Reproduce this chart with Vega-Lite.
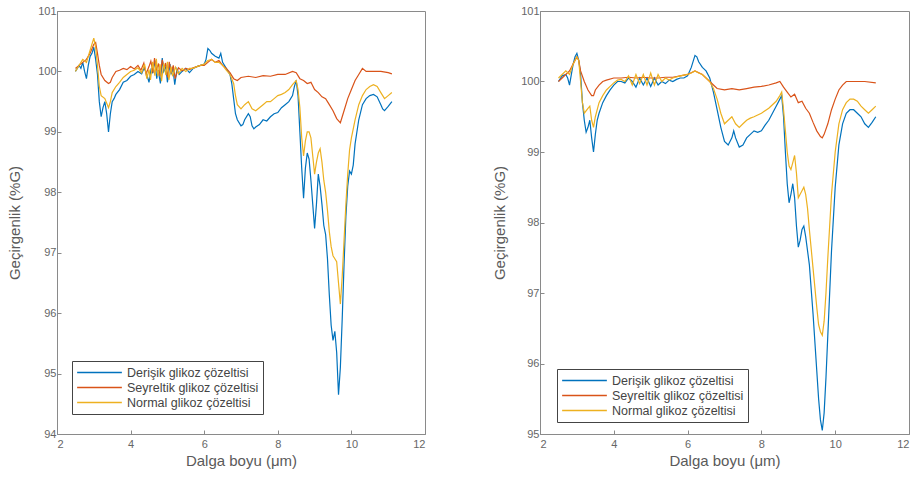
{
"$schema": "https://vega.github.io/schema/vega-lite/v6.json",
"padding": {"left": 6, "top": 4, "right": 0, "bottom": 0},
"background": "white",
"bounds": "flush",
"spacing": 115,
"resolve": {"legend": {"color": "independent"}, "scale": {"y": "independent", "color": "independent"}},
"config": {
  "font": "Liberation Sans",
  "view": {"stroke": "#8a8a8a", "strokeWidth": 1},
  "axis": {"grid": false, "domainColor": "#8a8a8a", "tickColor": "#8a8a8a", "tickSize": -4, "labelColor": "#666", "labelFontSize": 11, "titleFontSize": 15, "titleFontWeight": "normal", "titleColor": "#5a5a5a", "labelPadding": 5},
  "legend": {"orient": "none", "symbolType": "stroke", "symbolSize": 2000, "symbolStrokeWidth": 1.5, "clipHeight": 15, "strokeColor": "#444", "fillColor": "white", "padding": 4, "labelFontSize": 12.5, "labelColor": "#444", "rowPadding": 0, "labelLimit": 300}
},
"data": {"values": [
{"p":"L","s":"D","x":2.5,"y":100.0},{"p":"L","s":"D","x":2.55,"y":100.05},{"p":"L","s":"D","x":2.6,"y":100.1},{"p":"L","s":"D","x":2.65,"y":100.05},{"p":"L","s":"D","x":2.7,"y":100.15},{"p":"L","s":"D","x":2.75,"y":100.0},{"p":"L","s":"D","x":2.8,"y":99.88},{"p":"L","s":"D","x":2.85,"y":100.1},{"p":"L","s":"D","x":2.9,"y":100.25},{"p":"L","s":"D","x":2.95,"y":100.3},{"p":"L","s":"D","x":3.0,"y":100.4},{"p":"L","s":"D","x":3.05,"y":100.2},{"p":"L","s":"D","x":3.1,"y":99.95},{"p":"L","s":"D","x":3.15,"y":99.5},{"p":"L","s":"D","x":3.2,"y":99.25},{"p":"L","s":"D","x":3.25,"y":99.4},{"p":"L","s":"D","x":3.3,"y":99.5},{"p":"L","s":"D","x":3.35,"y":99.3},{"p":"L","s":"D","x":3.4,"y":99.0},{"p":"L","s":"D","x":3.45,"y":99.3},{"p":"L","s":"D","x":3.5,"y":99.5},{"p":"L","s":"D","x":3.55,"y":99.55},{"p":"L","s":"D","x":3.6,"y":99.62},{"p":"L","s":"D","x":3.7,"y":99.7},{"p":"L","s":"D","x":3.8,"y":99.82},{"p":"L","s":"D","x":3.9,"y":99.85},{"p":"L","s":"D","x":4.0,"y":99.92},{"p":"L","s":"D","x":4.1,"y":99.95},{"p":"L","s":"D","x":4.2,"y":100.0},{"p":"L","s":"D","x":4.3,"y":99.96},{"p":"L","s":"D","x":4.37,"y":100.06},{"p":"L","s":"D","x":4.45,"y":99.93},{"p":"L","s":"D","x":4.5,"y":99.82},{"p":"L","s":"D","x":4.56,"y":100.05},{"p":"L","s":"D","x":4.6,"y":99.97},{"p":"L","s":"D","x":4.66,"y":100.18},{"p":"L","s":"D","x":4.71,"y":99.88},{"p":"L","s":"D","x":4.75,"y":100.02},{"p":"L","s":"D","x":4.81,"y":99.8},{"p":"L","s":"D","x":4.86,"y":100.22},{"p":"L","s":"D","x":4.9,"y":100.0},{"p":"L","s":"D","x":4.96,"y":100.08},{"p":"L","s":"D","x":5.0,"y":99.82},{"p":"L","s":"D","x":5.07,"y":100.12},{"p":"L","s":"D","x":5.1,"y":99.95},{"p":"L","s":"D","x":5.15,"y":100.05},{"p":"L","s":"D","x":5.2,"y":99.78},{"p":"L","s":"D","x":5.26,"y":100.04},{"p":"L","s":"D","x":5.32,"y":99.95},{"p":"L","s":"D","x":5.4,"y":100.0},{"p":"L","s":"D","x":5.5,"y":100.05},{"p":"L","s":"D","x":5.6,"y":99.98},{"p":"L","s":"D","x":5.7,"y":100.05},{"p":"L","s":"D","x":5.8,"y":100.08},{"p":"L","s":"D","x":5.9,"y":100.1},{"p":"L","s":"D","x":6.0,"y":100.12},{"p":"L","s":"D","x":6.05,"y":100.2},{"p":"L","s":"D","x":6.1,"y":100.38},{"p":"L","s":"D","x":6.15,"y":100.35},{"p":"L","s":"D","x":6.2,"y":100.3},{"p":"L","s":"D","x":6.3,"y":100.25},{"p":"L","s":"D","x":6.4,"y":100.22},{"p":"L","s":"D","x":6.45,"y":100.3},{"p":"L","s":"D","x":6.5,"y":100.15},{"p":"L","s":"D","x":6.6,"y":100.05},{"p":"L","s":"D","x":6.7,"y":99.95},{"p":"L","s":"D","x":6.75,"y":99.8},{"p":"L","s":"D","x":6.8,"y":99.55},{"p":"L","s":"D","x":6.85,"y":99.3},{"p":"L","s":"D","x":6.9,"y":99.2},{"p":"L","s":"D","x":7.0,"y":99.1},{"p":"L","s":"D","x":7.05,"y":99.12},{"p":"L","s":"D","x":7.1,"y":99.2},{"p":"L","s":"D","x":7.2,"y":99.3},{"p":"L","s":"D","x":7.25,"y":99.25},{"p":"L","s":"D","x":7.3,"y":99.1},{"p":"L","s":"D","x":7.35,"y":99.05},{"p":"L","s":"D","x":7.4,"y":99.08},{"p":"L","s":"D","x":7.5,"y":99.12},{"p":"L","s":"D","x":7.6,"y":99.2},{"p":"L","s":"D","x":7.7,"y":99.18},{"p":"L","s":"D","x":7.8,"y":99.25},{"p":"L","s":"D","x":7.9,"y":99.3},{"p":"L","s":"D","x":8.0,"y":99.32},{"p":"L","s":"D","x":8.1,"y":99.4},{"p":"L","s":"D","x":8.2,"y":99.45},{"p":"L","s":"D","x":8.3,"y":99.5},{"p":"L","s":"D","x":8.4,"y":99.6},{"p":"L","s":"D","x":8.45,"y":99.75},{"p":"L","s":"D","x":8.5,"y":99.85},{"p":"L","s":"D","x":8.55,"y":99.6},{"p":"L","s":"D","x":8.6,"y":99.0},{"p":"L","s":"D","x":8.65,"y":98.4},{"p":"L","s":"D","x":8.7,"y":97.9},{"p":"L","s":"D","x":8.75,"y":98.4},{"p":"L","s":"D","x":8.8,"y":98.65},{"p":"L","s":"D","x":8.85,"y":98.55},{"p":"L","s":"D","x":8.9,"y":98.2},{"p":"L","s":"D","x":8.95,"y":97.8},{"p":"L","s":"D","x":9.0,"y":97.4},{"p":"L","s":"D","x":9.05,"y":97.8},{"p":"L","s":"D","x":9.1,"y":98.3},{"p":"L","s":"D","x":9.15,"y":98.1},{"p":"L","s":"D","x":9.2,"y":97.8},{"p":"L","s":"D","x":9.25,"y":97.45},{"p":"L","s":"D","x":9.3,"y":97.3},{"p":"L","s":"D","x":9.35,"y":96.9},{"p":"L","s":"D","x":9.4,"y":96.3},{"p":"L","s":"D","x":9.45,"y":95.8},{"p":"L","s":"D","x":9.5,"y":95.55},{"p":"L","s":"D","x":9.55,"y":95.7},{"p":"L","s":"D","x":9.6,"y":95.35},{"p":"L","s":"D","x":9.65,"y":94.65},{"p":"L","s":"D","x":9.7,"y":95.1},{"p":"L","s":"D","x":9.75,"y":95.9},{"p":"L","s":"D","x":9.8,"y":96.8},{"p":"L","s":"D","x":9.85,"y":97.6},{"p":"L","s":"D","x":9.9,"y":98.1},{"p":"L","s":"D","x":9.95,"y":98.35},{"p":"L","s":"D","x":10.0,"y":98.3},{"p":"L","s":"D","x":10.05,"y":98.45},{"p":"L","s":"D","x":10.1,"y":98.8},{"p":"L","s":"D","x":10.2,"y":99.2},{"p":"L","s":"D","x":10.3,"y":99.45},{"p":"L","s":"D","x":10.4,"y":99.55},{"p":"L","s":"D","x":10.5,"y":99.6},{"p":"L","s":"D","x":10.6,"y":99.62},{"p":"L","s":"D","x":10.7,"y":99.58},{"p":"L","s":"D","x":10.8,"y":99.45},{"p":"L","s":"D","x":10.85,"y":99.38},{"p":"L","s":"D","x":10.9,"y":99.35},{"p":"L","s":"D","x":11.0,"y":99.42},{"p":"L","s":"D","x":11.1,"y":99.5},
{"p":"L","s":"S","x":2.5,"y":100.05},{"p":"L","s":"S","x":2.6,"y":100.1},{"p":"L","s":"S","x":2.7,"y":100.15},{"p":"L","s":"S","x":2.8,"y":100.2},{"p":"L","s":"S","x":2.9,"y":100.3},{"p":"L","s":"S","x":3.0,"y":100.45},{"p":"L","s":"S","x":3.05,"y":100.48},{"p":"L","s":"S","x":3.1,"y":100.3},{"p":"L","s":"S","x":3.15,"y":100.1},{"p":"L","s":"S","x":3.2,"y":99.95},{"p":"L","s":"S","x":3.3,"y":99.85},{"p":"L","s":"S","x":3.4,"y":99.8},{"p":"L","s":"S","x":3.45,"y":99.82},{"p":"L","s":"S","x":3.5,"y":99.9},{"p":"L","s":"S","x":3.6,"y":100.0},{"p":"L","s":"S","x":3.7,"y":100.02},{"p":"L","s":"S","x":3.8,"y":100.05},{"p":"L","s":"S","x":3.9,"y":100.03},{"p":"L","s":"S","x":4.0,"y":100.08},{"p":"L","s":"S","x":4.1,"y":100.04},{"p":"L","s":"S","x":4.2,"y":100.1},{"p":"L","s":"S","x":4.28,"y":100.02},{"p":"L","s":"S","x":4.36,"y":100.14},{"p":"L","s":"S","x":4.42,"y":99.96},{"p":"L","s":"S","x":4.5,"y":100.08},{"p":"L","s":"S","x":4.55,"y":100.17},{"p":"L","s":"S","x":4.61,"y":99.98},{"p":"L","s":"S","x":4.65,"y":100.22},{"p":"L","s":"S","x":4.7,"y":100.03},{"p":"L","s":"S","x":4.76,"y":100.13},{"p":"L","s":"S","x":4.8,"y":99.92},{"p":"L","s":"S","x":4.86,"y":100.19},{"p":"L","s":"S","x":4.91,"y":100.05},{"p":"L","s":"S","x":4.95,"y":100.14},{"p":"L","s":"S","x":5.01,"y":99.9},{"p":"L","s":"S","x":5.05,"y":100.16},{"p":"L","s":"S","x":5.1,"y":99.98},{"p":"L","s":"S","x":5.16,"y":100.1},{"p":"L","s":"S","x":5.21,"y":99.88},{"p":"L","s":"S","x":5.3,"y":100.06},{"p":"L","s":"S","x":5.4,"y":100.01},{"p":"L","s":"S","x":5.5,"y":100.05},{"p":"L","s":"S","x":5.6,"y":100.03},{"p":"L","s":"S","x":5.7,"y":100.06},{"p":"L","s":"S","x":5.8,"y":100.08},{"p":"L","s":"S","x":5.9,"y":100.1},{"p":"L","s":"S","x":6.0,"y":100.1},{"p":"L","s":"S","x":6.1,"y":100.15},{"p":"L","s":"S","x":6.2,"y":100.2},{"p":"L","s":"S","x":6.3,"y":100.15},{"p":"L","s":"S","x":6.4,"y":100.18},{"p":"L","s":"S","x":6.5,"y":100.1},{"p":"L","s":"S","x":6.6,"y":100.05},{"p":"L","s":"S","x":6.7,"y":99.98},{"p":"L","s":"S","x":6.8,"y":99.88},{"p":"L","s":"S","x":6.9,"y":99.85},{"p":"L","s":"S","x":7.0,"y":99.9},{"p":"L","s":"S","x":7.2,"y":99.92},{"p":"L","s":"S","x":7.4,"y":99.9},{"p":"L","s":"S","x":7.6,"y":99.93},{"p":"L","s":"S","x":7.8,"y":99.92},{"p":"L","s":"S","x":8.0,"y":99.95},{"p":"L","s":"S","x":8.2,"y":99.95},{"p":"L","s":"S","x":8.4,"y":100.0},{"p":"L","s":"S","x":8.5,"y":99.98},{"p":"L","s":"S","x":8.6,"y":99.88},{"p":"L","s":"S","x":8.7,"y":99.85},{"p":"L","s":"S","x":8.8,"y":99.8},{"p":"L","s":"S","x":8.9,"y":99.82},{"p":"L","s":"S","x":9.0,"y":99.7},{"p":"L","s":"S","x":9.1,"y":99.65},{"p":"L","s":"S","x":9.2,"y":99.58},{"p":"L","s":"S","x":9.3,"y":99.55},{"p":"L","s":"S","x":9.4,"y":99.45},{"p":"L","s":"S","x":9.5,"y":99.35},{"p":"L","s":"S","x":9.6,"y":99.22},{"p":"L","s":"S","x":9.7,"y":99.15},{"p":"L","s":"S","x":9.75,"y":99.25},{"p":"L","s":"S","x":9.8,"y":99.35},{"p":"L","s":"S","x":9.9,"y":99.55},{"p":"L","s":"S","x":10.0,"y":99.7},{"p":"L","s":"S","x":10.1,"y":99.85},{"p":"L","s":"S","x":10.2,"y":99.95},{"p":"L","s":"S","x":10.3,"y":100.05},{"p":"L","s":"S","x":10.4,"y":100.0},{"p":"L","s":"S","x":10.6,"y":100.0},{"p":"L","s":"S","x":10.8,"y":100.0},{"p":"L","s":"S","x":11.0,"y":99.98},{"p":"L","s":"S","x":11.1,"y":99.96},
{"p":"L","s":"N","x":2.5,"y":100.0},{"p":"L","s":"N","x":2.6,"y":100.1},{"p":"L","s":"N","x":2.7,"y":100.2},{"p":"L","s":"N","x":2.8,"y":100.15},{"p":"L","s":"N","x":2.9,"y":100.35},{"p":"L","s":"N","x":3.0,"y":100.55},{"p":"L","s":"N","x":3.05,"y":100.4},{"p":"L","s":"N","x":3.1,"y":100.1},{"p":"L","s":"N","x":3.15,"y":99.75},{"p":"L","s":"N","x":3.2,"y":99.6},{"p":"L","s":"N","x":3.3,"y":99.55},{"p":"L","s":"N","x":3.4,"y":99.4},{"p":"L","s":"N","x":3.45,"y":99.5},{"p":"L","s":"N","x":3.5,"y":99.65},{"p":"L","s":"N","x":3.6,"y":99.75},{"p":"L","s":"N","x":3.7,"y":99.82},{"p":"L","s":"N","x":3.8,"y":99.9},{"p":"L","s":"N","x":3.9,"y":99.95},{"p":"L","s":"N","x":4.0,"y":100.0},{"p":"L","s":"N","x":4.1,"y":100.02},{"p":"L","s":"N","x":4.2,"y":100.06},{"p":"L","s":"N","x":4.3,"y":99.98},{"p":"L","s":"N","x":4.38,"y":100.12},{"p":"L","s":"N","x":4.44,"y":99.88},{"p":"L","s":"N","x":4.5,"y":100.03},{"p":"L","s":"N","x":4.54,"y":99.86},{"p":"L","s":"N","x":4.6,"y":100.16},{"p":"L","s":"N","x":4.66,"y":99.93},{"p":"L","s":"N","x":4.7,"y":100.21},{"p":"L","s":"N","x":4.74,"y":99.92},{"p":"L","s":"N","x":4.8,"y":100.12},{"p":"L","s":"N","x":4.84,"y":99.84},{"p":"L","s":"N","x":4.9,"y":100.13},{"p":"L","s":"N","x":4.96,"y":99.94},{"p":"L","s":"N","x":5.0,"y":100.16},{"p":"L","s":"N","x":5.04,"y":99.86},{"p":"L","s":"N","x":5.1,"y":100.08},{"p":"L","s":"N","x":5.14,"y":99.92},{"p":"L","s":"N","x":5.22,"y":100.07},{"p":"L","s":"N","x":5.3,"y":99.96},{"p":"L","s":"N","x":5.4,"y":100.05},{"p":"L","s":"N","x":5.5,"y":100.0},{"p":"L","s":"N","x":5.6,"y":100.05},{"p":"L","s":"N","x":5.7,"y":100.05},{"p":"L","s":"N","x":5.8,"y":100.08},{"p":"L","s":"N","x":5.9,"y":100.1},{"p":"L","s":"N","x":6.0,"y":100.12},{"p":"L","s":"N","x":6.1,"y":100.18},{"p":"L","s":"N","x":6.2,"y":100.2},{"p":"L","s":"N","x":6.3,"y":100.15},{"p":"L","s":"N","x":6.4,"y":100.15},{"p":"L","s":"N","x":6.5,"y":100.1},{"p":"L","s":"N","x":6.6,"y":100.02},{"p":"L","s":"N","x":6.7,"y":99.95},{"p":"L","s":"N","x":6.8,"y":99.8},{"p":"L","s":"N","x":6.85,"y":99.6},{"p":"L","s":"N","x":6.9,"y":99.45},{"p":"L","s":"N","x":7.0,"y":99.38},{"p":"L","s":"N","x":7.1,"y":99.45},{"p":"L","s":"N","x":7.2,"y":99.5},{"p":"L","s":"N","x":7.3,"y":99.38},{"p":"L","s":"N","x":7.4,"y":99.35},{"p":"L","s":"N","x":7.5,"y":99.4},{"p":"L","s":"N","x":7.6,"y":99.45},{"p":"L","s":"N","x":7.7,"y":99.5},{"p":"L","s":"N","x":7.8,"y":99.5},{"p":"L","s":"N","x":7.9,"y":99.55},{"p":"L","s":"N","x":8.0,"y":99.6},{"p":"L","s":"N","x":8.1,"y":99.62},{"p":"L","s":"N","x":8.2,"y":99.65},{"p":"L","s":"N","x":8.3,"y":99.7},{"p":"L","s":"N","x":8.4,"y":99.78},{"p":"L","s":"N","x":8.5,"y":99.85},{"p":"L","s":"N","x":8.55,"y":99.7},{"p":"L","s":"N","x":8.6,"y":99.4},{"p":"L","s":"N","x":8.65,"y":98.9},{"p":"L","s":"N","x":8.7,"y":98.6},{"p":"L","s":"N","x":8.75,"y":98.85},{"p":"L","s":"N","x":8.8,"y":99.0},{"p":"L","s":"N","x":8.85,"y":99.0},{"p":"L","s":"N","x":8.9,"y":98.9},{"p":"L","s":"N","x":8.95,"y":98.6},{"p":"L","s":"N","x":9.0,"y":98.3},{"p":"L","s":"N","x":9.05,"y":98.5},{"p":"L","s":"N","x":9.1,"y":98.65},{"p":"L","s":"N","x":9.15,"y":98.72},{"p":"L","s":"N","x":9.2,"y":98.5},{"p":"L","s":"N","x":9.25,"y":98.2},{"p":"L","s":"N","x":9.3,"y":98.0},{"p":"L","s":"N","x":9.35,"y":97.7},{"p":"L","s":"N","x":9.4,"y":97.35},{"p":"L","s":"N","x":9.45,"y":97.1},{"p":"L","s":"N","x":9.5,"y":96.95},{"p":"L","s":"N","x":9.55,"y":96.9},{"p":"L","s":"N","x":9.6,"y":96.85},{"p":"L","s":"N","x":9.65,"y":96.5},{"p":"L","s":"N","x":9.7,"y":96.15},{"p":"L","s":"N","x":9.75,"y":96.6},{"p":"L","s":"N","x":9.8,"y":97.2},{"p":"L","s":"N","x":9.85,"y":97.8},{"p":"L","s":"N","x":9.9,"y":98.3},{"p":"L","s":"N","x":9.95,"y":98.7},{"p":"L","s":"N","x":10.0,"y":98.9},{"p":"L","s":"N","x":10.1,"y":99.2},{"p":"L","s":"N","x":10.2,"y":99.45},{"p":"L","s":"N","x":10.3,"y":99.6},{"p":"L","s":"N","x":10.4,"y":99.7},{"p":"L","s":"N","x":10.5,"y":99.75},{"p":"L","s":"N","x":10.6,"y":99.78},{"p":"L","s":"N","x":10.7,"y":99.75},{"p":"L","s":"N","x":10.8,"y":99.65},{"p":"L","s":"N","x":10.9,"y":99.55},{"p":"L","s":"N","x":11.0,"y":99.6},{"p":"L","s":"N","x":11.1,"y":99.65},
{"p":"R","s":"D","x":2.5,"y":100.0},{"p":"R","s":"D","x":2.6,"y":100.08},{"p":"R","s":"D","x":2.7,"y":100.1},{"p":"R","s":"D","x":2.75,"y":100.05},{"p":"R","s":"D","x":2.8,"y":99.95},{"p":"R","s":"D","x":2.85,"y":100.1},{"p":"R","s":"D","x":2.9,"y":100.25},{"p":"R","s":"D","x":2.95,"y":100.35},{"p":"R","s":"D","x":3.0,"y":100.4},{"p":"R","s":"D","x":3.05,"y":100.3},{"p":"R","s":"D","x":3.1,"y":100.1},{"p":"R","s":"D","x":3.15,"y":99.7},{"p":"R","s":"D","x":3.2,"y":99.45},{"p":"R","s":"D","x":3.25,"y":99.28},{"p":"R","s":"D","x":3.3,"y":99.35},{"p":"R","s":"D","x":3.35,"y":99.45},{"p":"R","s":"D","x":3.4,"y":99.2},{"p":"R","s":"D","x":3.45,"y":99.0},{"p":"R","s":"D","x":3.5,"y":99.25},{"p":"R","s":"D","x":3.55,"y":99.45},{"p":"R","s":"D","x":3.6,"y":99.55},{"p":"R","s":"D","x":3.7,"y":99.7},{"p":"R","s":"D","x":3.8,"y":99.8},{"p":"R","s":"D","x":3.9,"y":99.88},{"p":"R","s":"D","x":4.0,"y":99.95},{"p":"R","s":"D","x":4.1,"y":100.0},{"p":"R","s":"D","x":4.2,"y":100.0},{"p":"R","s":"D","x":4.3,"y":99.98},{"p":"R","s":"D","x":4.4,"y":100.05},{"p":"R","s":"D","x":4.5,"y":100.0},{"p":"R","s":"D","x":4.6,"y":99.92},{"p":"R","s":"D","x":4.7,"y":100.05},{"p":"R","s":"D","x":4.8,"y":99.95},{"p":"R","s":"D","x":4.9,"y":100.05},{"p":"R","s":"D","x":5.0,"y":99.93},{"p":"R","s":"D","x":5.1,"y":100.05},{"p":"R","s":"D","x":5.2,"y":99.95},{"p":"R","s":"D","x":5.3,"y":100.0},{"p":"R","s":"D","x":5.4,"y":99.97},{"p":"R","s":"D","x":5.5,"y":100.02},{"p":"R","s":"D","x":5.6,"y":100.0},{"p":"R","s":"D","x":5.7,"y":100.03},{"p":"R","s":"D","x":5.8,"y":100.05},{"p":"R","s":"D","x":5.9,"y":100.05},{"p":"R","s":"D","x":6.0,"y":100.08},{"p":"R","s":"D","x":6.1,"y":100.2},{"p":"R","s":"D","x":6.2,"y":100.37},{"p":"R","s":"D","x":6.25,"y":100.35},{"p":"R","s":"D","x":6.3,"y":100.28},{"p":"R","s":"D","x":6.4,"y":100.2},{"p":"R","s":"D","x":6.5,"y":100.15},{"p":"R","s":"D","x":6.6,"y":100.05},{"p":"R","s":"D","x":6.7,"y":99.85},{"p":"R","s":"D","x":6.8,"y":99.6},{"p":"R","s":"D","x":6.9,"y":99.35},{"p":"R","s":"D","x":7.0,"y":99.15},{"p":"R","s":"D","x":7.1,"y":99.1},{"p":"R","s":"D","x":7.2,"y":99.2},{"p":"R","s":"D","x":7.25,"y":99.3},{"p":"R","s":"D","x":7.3,"y":99.2},{"p":"R","s":"D","x":7.4,"y":99.07},{"p":"R","s":"D","x":7.5,"y":99.1},{"p":"R","s":"D","x":7.6,"y":99.2},{"p":"R","s":"D","x":7.7,"y":99.25},{"p":"R","s":"D","x":7.8,"y":99.3},{"p":"R","s":"D","x":7.9,"y":99.28},{"p":"R","s":"D","x":8.0,"y":99.3},{"p":"R","s":"D","x":8.1,"y":99.38},{"p":"R","s":"D","x":8.2,"y":99.45},{"p":"R","s":"D","x":8.3,"y":99.55},{"p":"R","s":"D","x":8.4,"y":99.65},{"p":"R","s":"D","x":8.5,"y":99.75},{"p":"R","s":"D","x":8.55,"y":99.8},{"p":"R","s":"D","x":8.6,"y":99.5},{"p":"R","s":"D","x":8.65,"y":99.0},{"p":"R","s":"D","x":8.7,"y":98.55},{"p":"R","s":"D","x":8.75,"y":98.28},{"p":"R","s":"D","x":8.8,"y":98.4},{"p":"R","s":"D","x":8.85,"y":98.55},{"p":"R","s":"D","x":8.9,"y":98.35},{"p":"R","s":"D","x":8.95,"y":97.95},{"p":"R","s":"D","x":9.0,"y":97.65},{"p":"R","s":"D","x":9.05,"y":97.75},{"p":"R","s":"D","x":9.1,"y":97.9},{"p":"R","s":"D","x":9.15,"y":97.95},{"p":"R","s":"D","x":9.2,"y":97.8},{"p":"R","s":"D","x":9.3,"y":97.4},{"p":"R","s":"D","x":9.4,"y":96.7},{"p":"R","s":"D","x":9.5,"y":95.9},{"p":"R","s":"D","x":9.55,"y":95.5},{"p":"R","s":"D","x":9.6,"y":95.2},{"p":"R","s":"D","x":9.65,"y":95.05},{"p":"R","s":"D","x":9.7,"y":95.3},{"p":"R","s":"D","x":9.75,"y":95.8},{"p":"R","s":"D","x":9.8,"y":96.4},{"p":"R","s":"D","x":9.9,"y":97.6},{"p":"R","s":"D","x":10.0,"y":98.5},{"p":"R","s":"D","x":10.1,"y":99.1},{"p":"R","s":"D","x":10.2,"y":99.4},{"p":"R","s":"D","x":10.3,"y":99.55},{"p":"R","s":"D","x":10.4,"y":99.6},{"p":"R","s":"D","x":10.5,"y":99.6},{"p":"R","s":"D","x":10.6,"y":99.55},{"p":"R","s":"D","x":10.7,"y":99.5},{"p":"R","s":"D","x":10.8,"y":99.4},{"p":"R","s":"D","x":10.9,"y":99.35},{"p":"R","s":"D","x":11.0,"y":99.42},{"p":"R","s":"D","x":11.1,"y":99.5},
{"p":"R","s":"S","x":2.5,"y":100.0},{"p":"R","s":"S","x":2.6,"y":100.05},{"p":"R","s":"S","x":2.7,"y":100.1},{"p":"R","s":"S","x":2.8,"y":100.15},{"p":"R","s":"S","x":2.9,"y":100.25},{"p":"R","s":"S","x":3.0,"y":100.35},{"p":"R","s":"S","x":3.05,"y":100.3},{"p":"R","s":"S","x":3.1,"y":100.15},{"p":"R","s":"S","x":3.2,"y":100.0},{"p":"R","s":"S","x":3.3,"y":99.88},{"p":"R","s":"S","x":3.4,"y":99.8},{"p":"R","s":"S","x":3.45,"y":99.8},{"p":"R","s":"S","x":3.5,"y":99.88},{"p":"R","s":"S","x":3.6,"y":99.95},{"p":"R","s":"S","x":3.7,"y":100.0},{"p":"R","s":"S","x":3.8,"y":100.02},{"p":"R","s":"S","x":4.0,"y":100.05},{"p":"R","s":"S","x":4.2,"y":100.05},{"p":"R","s":"S","x":4.4,"y":100.06},{"p":"R","s":"S","x":4.6,"y":100.05},{"p":"R","s":"S","x":4.8,"y":100.06},{"p":"R","s":"S","x":5.0,"y":100.05},{"p":"R","s":"S","x":5.2,"y":100.05},{"p":"R","s":"S","x":5.4,"y":100.06},{"p":"R","s":"S","x":5.6,"y":100.06},{"p":"R","s":"S","x":5.8,"y":100.08},{"p":"R","s":"S","x":6.0,"y":100.1},{"p":"R","s":"S","x":6.2,"y":100.15},{"p":"R","s":"S","x":6.4,"y":100.1},{"p":"R","s":"S","x":6.6,"y":100.0},{"p":"R","s":"S","x":6.7,"y":99.95},{"p":"R","s":"S","x":6.8,"y":99.9},{"p":"R","s":"S","x":7.0,"y":99.88},{"p":"R","s":"S","x":7.2,"y":99.9},{"p":"R","s":"S","x":7.4,"y":99.88},{"p":"R","s":"S","x":7.6,"y":99.9},{"p":"R","s":"S","x":7.8,"y":99.92},{"p":"R","s":"S","x":8.0,"y":99.93},{"p":"R","s":"S","x":8.2,"y":99.95},{"p":"R","s":"S","x":8.4,"y":99.98},{"p":"R","s":"S","x":8.5,"y":100.0},{"p":"R","s":"S","x":8.6,"y":99.92},{"p":"R","s":"S","x":8.7,"y":99.85},{"p":"R","s":"S","x":8.8,"y":99.78},{"p":"R","s":"S","x":8.9,"y":99.82},{"p":"R","s":"S","x":9.0,"y":99.7},{"p":"R","s":"S","x":9.1,"y":99.72},{"p":"R","s":"S","x":9.2,"y":99.62},{"p":"R","s":"S","x":9.3,"y":99.55},{"p":"R","s":"S","x":9.4,"y":99.42},{"p":"R","s":"S","x":9.5,"y":99.3},{"p":"R","s":"S","x":9.6,"y":99.22},{"p":"R","s":"S","x":9.65,"y":99.2},{"p":"R","s":"S","x":9.7,"y":99.25},{"p":"R","s":"S","x":9.8,"y":99.4},{"p":"R","s":"S","x":9.9,"y":99.6},{"p":"R","s":"S","x":10.0,"y":99.75},{"p":"R","s":"S","x":10.1,"y":99.88},{"p":"R","s":"S","x":10.2,"y":99.95},{"p":"R","s":"S","x":10.3,"y":100.0},{"p":"R","s":"S","x":10.5,"y":100.0},{"p":"R","s":"S","x":10.8,"y":100.0},{"p":"R","s":"S","x":11.1,"y":99.98},
{"p":"R","s":"N","x":2.5,"y":100.05},{"p":"R","s":"N","x":2.6,"y":100.1},{"p":"R","s":"N","x":2.7,"y":100.15},{"p":"R","s":"N","x":2.8,"y":100.1},{"p":"R","s":"N","x":2.9,"y":100.25},{"p":"R","s":"N","x":3.0,"y":100.35},{"p":"R","s":"N","x":3.05,"y":100.3},{"p":"R","s":"N","x":3.1,"y":100.0},{"p":"R","s":"N","x":3.15,"y":99.7},{"p":"R","s":"N","x":3.2,"y":99.55},{"p":"R","s":"N","x":3.3,"y":99.62},{"p":"R","s":"N","x":3.35,"y":99.65},{"p":"R","s":"N","x":3.4,"y":99.45},{"p":"R","s":"N","x":3.45,"y":99.35},{"p":"R","s":"N","x":3.5,"y":99.5},{"p":"R","s":"N","x":3.6,"y":99.7},{"p":"R","s":"N","x":3.7,"y":99.8},{"p":"R","s":"N","x":3.8,"y":99.88},{"p":"R","s":"N","x":3.9,"y":99.93},{"p":"R","s":"N","x":4.0,"y":99.98},{"p":"R","s":"N","x":4.1,"y":100.02},{"p":"R","s":"N","x":4.2,"y":100.03},{"p":"R","s":"N","x":4.3,"y":100.0},{"p":"R","s":"N","x":4.4,"y":100.08},{"p":"R","s":"N","x":4.5,"y":99.95},{"p":"R","s":"N","x":4.6,"y":100.1},{"p":"R","s":"N","x":4.7,"y":99.97},{"p":"R","s":"N","x":4.8,"y":100.1},{"p":"R","s":"N","x":4.9,"y":99.95},{"p":"R","s":"N","x":5.0,"y":100.12},{"p":"R","s":"N","x":5.1,"y":99.95},{"p":"R","s":"N","x":5.2,"y":100.1},{"p":"R","s":"N","x":5.3,"y":100.0},{"p":"R","s":"N","x":5.4,"y":100.05},{"p":"R","s":"N","x":5.5,"y":100.02},{"p":"R","s":"N","x":5.6,"y":100.05},{"p":"R","s":"N","x":5.8,"y":100.08},{"p":"R","s":"N","x":6.0,"y":100.1},{"p":"R","s":"N","x":6.1,"y":100.12},{"p":"R","s":"N","x":6.2,"y":100.15},{"p":"R","s":"N","x":6.3,"y":100.12},{"p":"R","s":"N","x":6.4,"y":100.1},{"p":"R","s":"N","x":6.5,"y":100.05},{"p":"R","s":"N","x":6.6,"y":100.0},{"p":"R","s":"N","x":6.7,"y":99.9},{"p":"R","s":"N","x":6.8,"y":99.75},{"p":"R","s":"N","x":6.9,"y":99.55},{"p":"R","s":"N","x":7.0,"y":99.4},{"p":"R","s":"N","x":7.1,"y":99.45},{"p":"R","s":"N","x":7.2,"y":99.5},{"p":"R","s":"N","x":7.3,"y":99.4},{"p":"R","s":"N","x":7.4,"y":99.35},{"p":"R","s":"N","x":7.5,"y":99.4},{"p":"R","s":"N","x":7.6,"y":99.45},{"p":"R","s":"N","x":7.7,"y":99.48},{"p":"R","s":"N","x":7.8,"y":99.5},{"p":"R","s":"N","x":8.0,"y":99.55},{"p":"R","s":"N","x":8.2,"y":99.62},{"p":"R","s":"N","x":8.4,"y":99.72},{"p":"R","s":"N","x":8.5,"y":99.8},{"p":"R","s":"N","x":8.55,"y":99.85},{"p":"R","s":"N","x":8.6,"y":99.6},{"p":"R","s":"N","x":8.65,"y":99.3},{"p":"R","s":"N","x":8.7,"y":99.0},{"p":"R","s":"N","x":8.75,"y":98.8},{"p":"R","s":"N","x":8.8,"y":98.75},{"p":"R","s":"N","x":8.85,"y":98.85},{"p":"R","s":"N","x":8.9,"y":98.95},{"p":"R","s":"N","x":8.95,"y":98.7},{"p":"R","s":"N","x":9.0,"y":98.35},{"p":"R","s":"N","x":9.05,"y":98.4},{"p":"R","s":"N","x":9.1,"y":98.45},{"p":"R","s":"N","x":9.15,"y":98.5},{"p":"R","s":"N","x":9.2,"y":98.4},{"p":"R","s":"N","x":9.25,"y":98.2},{"p":"R","s":"N","x":9.3,"y":97.9},{"p":"R","s":"N","x":9.4,"y":97.35},{"p":"R","s":"N","x":9.5,"y":96.8},{"p":"R","s":"N","x":9.55,"y":96.55},{"p":"R","s":"N","x":9.6,"y":96.45},{"p":"R","s":"N","x":9.65,"y":96.4},{"p":"R","s":"N","x":9.7,"y":96.6},{"p":"R","s":"N","x":9.75,"y":97.0},{"p":"R","s":"N","x":9.8,"y":97.5},{"p":"R","s":"N","x":9.9,"y":98.4},{"p":"R","s":"N","x":10.0,"y":99.0},{"p":"R","s":"N","x":10.1,"y":99.4},{"p":"R","s":"N","x":10.2,"y":99.6},{"p":"R","s":"N","x":10.3,"y":99.7},{"p":"R","s":"N","x":10.4,"y":99.75},{"p":"R","s":"N","x":10.5,"y":99.75},{"p":"R","s":"N","x":10.6,"y":99.72},{"p":"R","s":"N","x":10.7,"y":99.65},{"p":"R","s":"N","x":10.8,"y":99.6},{"p":"R","s":"N","x":10.9,"y":99.55},{"p":"R","s":"N","x":11.0,"y":99.6},{"p":"R","s":"N","x":11.1,"y":99.65}
]},
"hconcat": [
{
  "width": 368, "height": 423,
  "transform": [{"filter": "datum.p == 'L'"}],
  "mark": {"type": "line", "strokeWidth": 1.2},
  "encoding": {
    "x": {"field": "x", "type": "quantitative", "scale": {"domain": [2, 12], "nice": false}, "axis": {"values": [2, 4, 6, 8, 10, 12], "title": "Dalga boyu (μm)", "labelPadding": 8, "titlePadding": 4}},
    "y": {"field": "y", "type": "quantitative", "scale": {"domain": [94, 101], "nice": false, "zero": false}, "axis": {"values": [94, 95, 96, 97, 98, 99, 100, 101], "title": "Geçirgenlik (%G)", "titleX": -43, "titleBaseline": "middle"}},
    "color": {"field": "s", "type": "nominal", "scale": {"domain": ["D", "S", "N"], "range": ["#0072BD", "#D95319", "#EDB120"]}, "legend": {"title": null, "legendX": 15, "legendY": 350, "labelExpr": "datum.label == 'D' ? 'Derişik glikoz çözeltisi' : datum.label == 'S' ? 'Seyreltik glikoz çözeltisi' : 'Normal glikoz çözeltisi'"}}
  }
},
{
  "width": 369, "height": 423,
  "transform": [{"filter": "datum.p == 'R'"}],
  "mark": {"type": "line", "strokeWidth": 1.2},
  "encoding": {
    "x": {"field": "x", "type": "quantitative", "scale": {"domain": [2, 12], "nice": false}, "axis": {"values": [2, 4, 6, 8, 10, 12], "title": "Dalga boyu (μm)", "labelPadding": 8, "titlePadding": 4}},
    "y": {"field": "y", "type": "quantitative", "scale": {"domain": [95, 101], "nice": false, "zero": false}, "axis": {"values": [95, 96, 97, 98, 99, 100, 101], "title": "Geçirgenlik (%G)", "titleX": -41, "titleBaseline": "middle"}},
    "color": {"field": "s", "type": "nominal", "scale": {"domain": ["D", "S", "N"], "range": ["#0072BD", "#D95319", "#EDB120"]}, "legend": {"title": null, "legendX": 17, "legendY": 358, "labelExpr": "datum.label == 'D' ? 'Derişik glikoz çözeltisi' : datum.label == 'S' ? 'Seyreltik glikoz çözeltisi' : 'Normal glikoz çözeltisi'"}}
  }
}
]
}
